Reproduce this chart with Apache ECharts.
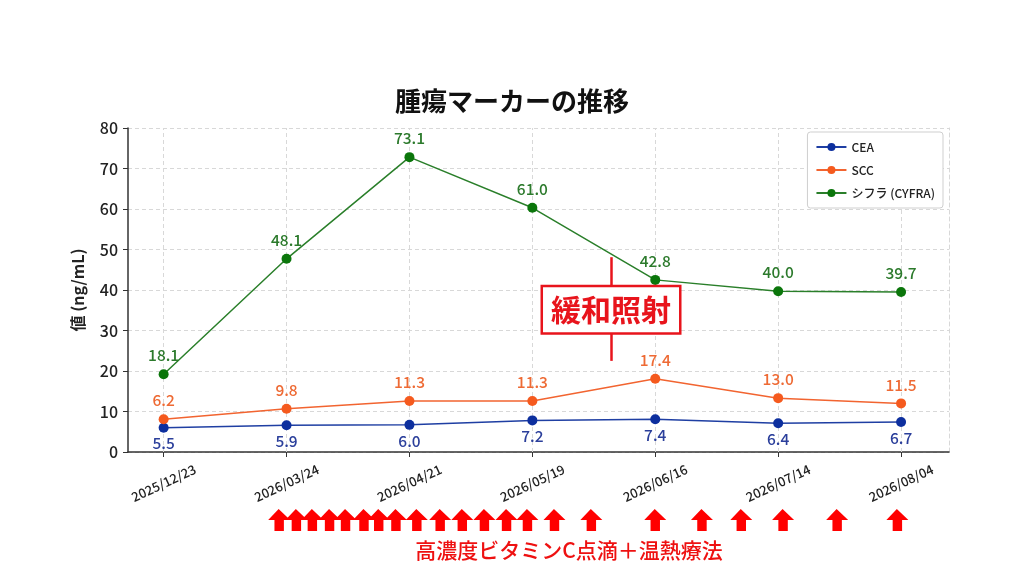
<!DOCTYPE html>
<html>
<head>
<meta charset="utf-8">
<script src="https://cdn.jsdelivr.net/npm/echarts@6/dist/echarts.min.js"></script>
<style>
  html,body{margin:0;padding:0;background:#fff;}
  #chart{width:1024px;height:576px;}
</style>
</head>
<body>
<div id="chart"></div>
<script>
var dates = ['2025/12/23','2026/03/24','2026/04/21','2026/05/19','2026/06/16','2026/07/14','2026/08/04'];
var dateIdx = [0, 1, 2, 3, 4, 5, 6];
// plotted values
var ceaValues = [6.0, 6.6, 6.7, 7.8, 8.1, 7.1, 7.4];
var sccValues = [8.1, 10.7, 12.6, 12.6, 18.1, 13.3, 12.0];
var cyfraValues = [19.2, 47.7, 72.8, 60.3, 42.5, 39.7, 39.5];
// numbers printed next to the markers
var ceaLabels = ['5.5','5.9','6.0','7.2','7.4','6.4','6.7'];
var sccLabels = ['6.2','9.8','11.3','11.3','17.4','13.0','11.5'];
var cyfraLabels = ['18.1','48.1','73.1','61.0','42.8','40.0','39.7'];
// treatment arrows, in date-index units
var arrowPos = [0.94, 1.08, 1.21, 1.35, 1.48, 1.63, 1.75, 1.89, 2.06, 2.25, 2.43,
                2.61, 2.79, 2.96, 3.18, 3.48, 4.0, 4.38, 4.7, 5.04, 5.48, 5.97];
// palliative radiation marker
var radiationX = 3.64;
var radiationSpan = [22.5, 48.1];
var radiationMid = 35.1;

var FONT = '"Noto Sans CJK JP", "Noto Sans", sans-serif';
var xMin = -0.29, xMax = 6.39;

function pair(vals){
  return vals.map(function(v, i){ return [dateIdx[i], v]; });
}

var chart = echarts.init(document.getElementById('chart'));
var option = {
  backgroundColor: '#fff',
  textStyle: {fontFamily: FONT},
  animation: false,
  title: {
    text: '腫瘍マーカーの推移',
    left: 'center',
    top: 83,
    textStyle: {fontFamily: FONT, fontSize: 26, fontWeight: 'bold', color: '#111'}
  },
  legend: {
    orient: 'vertical',
    right: 81,
    top: 132,
    itemWidth: 30,
    itemHeight: 10,
    itemGap: 11,
    padding: [9, 8, 9, 8],
    backgroundColor: '#fff',
    borderColor: '#cfcfcf',
    borderWidth: 1,
    borderRadius: 3,
    textStyle: {fontFamily: FONT, fontSize: 12, fontWeight: 500, color: '#222'},
    data: ['CEA', 'SCC', 'シフラ (CYFRA)']
  },
  grid: [
    {left: 128, right: 75, top: 128, bottom: 124, show: false},
    {left: 128, right: 75, top: 505, height: 30, show: false}
  ],
  xAxis: [
    {
      type: 'value', min: xMin, max: xMax, gridIndex: 0,
      axisLine: {show: true, onZero: false, lineStyle: {color: '#333', width: 1.5}},
      axisTick: {show: true, customValues: dateIdx, length: 5, lineStyle: {color: '#333'}},
      axisLabel: {
        customValues: dateIdx,
        formatter: function(v){ return dates[Math.round(v)]; },
        rotate: 25, align: 'center', verticalAlign: 'middle', margin: 31,
        fontFamily: FONT, fontSize: 13, fontWeight: 500, color: '#222'
      },
      splitLine: {show: false}
    },
    {
      type: 'value', min: xMin, max: xMax, gridIndex: 1, show: false
    }
  ],
  yAxis: [
    {
      type: 'value', min: 0, max: 80, interval: 10, gridIndex: 0,
      name: '値 (ng/mL)', nameLocation: 'middle', nameGap: 42,
      nameTextStyle: {fontFamily: FONT, fontSize: 16, fontWeight: 'bold', color: '#222'},
      axisLine: {show: true, onZero: false, lineStyle: {color: '#333', width: 1.5}},
      axisTick: {show: true, length: 5, lineStyle: {color: '#333'}},
      axisLabel: {fontFamily: FONT, fontSize: 16, fontWeight: 500, color: '#222', margin: 10},
      splitLine: {show: true, lineStyle: {color: '#d8d8d8', type: [4, 3]}}
    },
    {
      type: 'value', min: 0, max: 80, gridIndex: 0, position: 'right',
      axisLine: {show: true, onZero: false, lineStyle: {color: '#d8d8d8', type: [4, 3]}},
      axisTick: {show: false}, axisLabel: {show: false}, splitLine: {show: false}
    },
    {
      type: 'value', min: 0, max: 1, gridIndex: 1, show: false
    }
  ],
  series: [
    {
      name: 'grid-x', type: 'line', data: [], silent: true, z: 1,
      markLine: {
        symbol: 'none', silent: true, label: {show: false}, z: 1,
        lineStyle: {color: '#d8d8d8', type: [4, 3], width: 1},
        data: dateIdx.map(function(i){ return {xAxis: i}; })
      }
    },
    {
      name: 'CEA', type: 'line', data: pair(ceaValues),
      symbol: 'circle', symbolSize: 10, z: 5,
      itemStyle: {color: '#0d2f9e'}, lineStyle: {color: '#1f3fa3', width: 1.5},
      label: {
        show: true, position: 'bottom', distance: 3,
        formatter: function(p){ return ceaLabels[p.dataIndex]; },
        fontFamily: FONT, fontSize: 15.5, fontWeight: 500, color: '#2b3f9b'
      }
    },
    {
      name: 'SCC', type: 'line', data: pair(sccValues),
      symbol: 'circle', symbolSize: 10, z: 5,
      itemStyle: {color: '#f55a1e'}, lineStyle: {color: '#f26430', width: 1.5},
      label: {
        show: true, position: 'top', distance: 6,
        formatter: function(p){ return sccLabels[p.dataIndex]; },
        fontFamily: FONT, fontSize: 15.5, fontWeight: 500, color: '#ee6a34'
      }
    },
    {
      name: 'シフラ (CYFRA)', type: 'line', data: pair(cyfraValues),
      symbol: 'circle', symbolSize: 10, z: 5,
      itemStyle: {color: '#0b760b'}, lineStyle: {color: '#2a7f2a', width: 1.5},
      label: {
        show: true, position: 'top', distance: 6,
        formatter: function(p){ return cyfraLabels[p.dataIndex]; },
        fontFamily: FONT, fontSize: 15.5, fontWeight: 500, color: '#2c7a2c'
      }
    },
    {
      name: 'radiation', type: 'scatter', silent: true, z: 6,
      data: [[radiationX, radiationMid]],
      symbolSize: 0,
      itemStyle: {opacity: 1, color: '#e8141c'},
      label: {
        show: true, position: 'inside',
        formatter: '緩和照射',
        fontFamily: FONT, fontSize: 30, fontWeight: 'bold', color: '#e8141c',
        backgroundColor: '#fff', borderColor: '#e8141c', borderWidth: 2.5,
        padding: [3, 8, 2, 8], lineHeight: 40
      },
      markLine: {
        symbol: 'none', silent: true, label: {show: false},
        lineStyle: {color: '#e8141c', type: 'solid', width: 2.5},
        data: [[{coord: [radiationX, radiationSpan[0]]}, {coord: [radiationX, radiationSpan[1]]}]]
      }
    },
    {
      name: 'arrows', type: 'scatter', silent: true,
      xAxisIndex: 1, yAxisIndex: 2,
      data: arrowPos.map(function(x){ return [x, 0.5]; }),
      symbol: 'path://M10,0 L21,11 L15,11 L15,22 L6,22 L6,11 L0,11 Z',
      symbolSize: [22, 22],
      itemStyle: {color: '#ff0000', opacity: 1}
    }
  ],
  graphic: [
    {
      type: 'text', x: 569, y: 550,
      style: {
        text: '高濃度ビタミンC点滴＋温熱療法',
        font: '500 21px ' + FONT, fill: '#ee1111',
        textAlign: 'center', textVerticalAlign: 'middle'
      }
    }
  ]
};
chart.setOption(option);
</script>
</body>
</html>
